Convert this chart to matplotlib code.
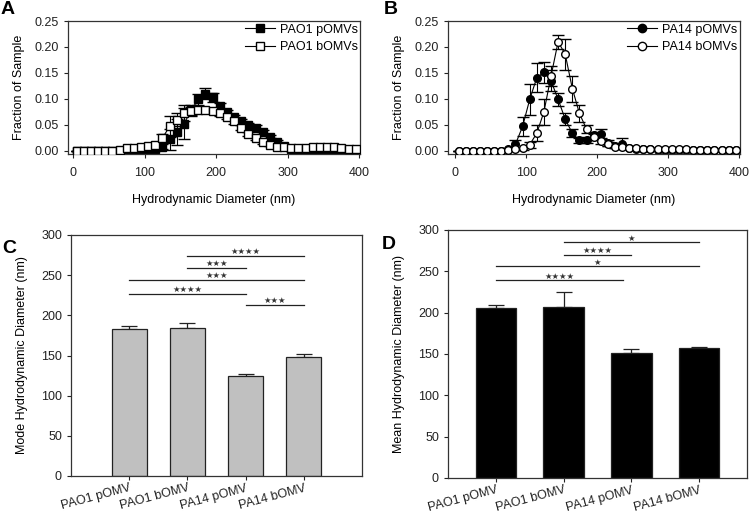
import numpy as np
import matplotlib
matplotlib.use("Agg")
import matplotlib.pyplot as plt
from matplotlib.lines import Line2D

plt.rcParams['font.family'] = ['Liberation Sans', 'DejaVu Sans']
plt.rcParams['font.size'] = 9

# --- datos paneles A y B (distribucion de tamaños) ---
diam = np.arange(5, 400, 10)

pao1_p = [0, 0, 0, 0, 0, 0, 0, 0, 0, 0,
          0.001, 0.003, 0.008, 0.022, 0.036, 0.052, 0.078, 0.099, 0.110, 0.103,
          0.087, 0.075, 0.065, 0.058, 0.050, 0.045, 0.037, 0.027, 0.018, 0.009,
          0.004, 0.002, 0.002, 0.002, 0.002, 0.002, 0.002, 0.002, 0.002, 0.002]
pao1_p_err = [0, 0, 0, 0, 0, 0, 0, 0, 0, 0,
              0.001, 0.002, 0.005, 0.02, 0.025, 0.03, 0.01, 0.01, 0.011, 0.009,
              0.006, 0.004, 0.004, 0.004, 0.004, 0.004, 0.004, 0.003, 0.003, 0.002,
              0.001, 0.001, 0.001, 0.001, 0.001, 0.001, 0.001, 0.001, 0.001, 0.001]
pao1_b = [0, 0, 0, 0, 0, 0, 0.002, 0.005, 0.006, 0.007,
          0.009, 0.012, 0.025, 0.047, 0.060, 0.073, 0.077, 0.078, 0.078, 0.077,
          0.073, 0.066, 0.057, 0.045, 0.033, 0.025, 0.017, 0.012, 0.008, 0.007,
          0.005, 0.006, 0.006, 0.007, 0.008, 0.008, 0.007, 0.006, 0.004, 0.003]
pao1_b_err = [0, 0, 0, 0, 0, 0, 0.001, 0.002, 0.002, 0.002,
              0.003, 0.004, 0.008, 0.02, 0.012, 0.015, 0.008, 0.006, 0.005, 0.005,
              0.005, 0.005, 0.005, 0.005, 0.004, 0.004, 0.003, 0.003, 0.002, 0.002,
              0.002, 0.002, 0.002, 0.002, 0.002, 0.002, 0.002, 0.002, 0.002, 0.001]

pa14_p = [0, 0, 0, 0, 0, 0, 0, 0.003, 0.013, 0.047,
          0.099, 0.141, 0.151, 0.135, 0.099, 0.061, 0.034, 0.020, 0.021, 0.030,
          0.033, 0.015, 0.010, 0.014, 0.005, 0.004, 0.003, 0.003, 0.002, 0.002,
          0.002, 0.002, 0.002, 0.001, 0.001, 0.001, 0.001, 0.001, 0.001, 0.001]
pa14_p_err = [0, 0, 0, 0, 0, 0, 0, 0.002, 0.008, 0.018,
              0.03, 0.028, 0.02, 0.02, 0.012, 0.012, 0.008, 0.005, 0.005, 0.006,
              0.01, 0.005, 0.004, 0.01, 0.002, 0.002, 0.001, 0.001, 0.001, 0.001,
              0.001, 0.001, 0.001, 0.001, 0.001, 0.001, 0.001, 0.001, 0.001, 0.001]
pa14_b = [0, 0, 0, 0, 0, 0, 0, 0.002, 0.003, 0.005,
          0.012, 0.034, 0.075, 0.144, 0.210, 0.186, 0.120, 0.072, 0.042, 0.027,
          0.019, 0.013, 0.008, 0.007, 0.005, 0.005, 0.004, 0.004, 0.004, 0.003,
          0.003, 0.003, 0.003, 0.002, 0.002, 0.002, 0.002, 0.001, 0.001, 0.001]
pa14_b_err = [0, 0, 0, 0, 0, 0, 0, 0.001, 0.002, 0.003,
              0.006, 0.015, 0.025, 0.02, 0.013, 0.03, 0.025, 0.017, 0.008, 0.006,
              0.005, 0.004, 0.003, 0.002, 0.002, 0.001, 0.001, 0.001, 0.001, 0.001,
              0.001, 0.001, 0.001, 0.001, 0.001, 0.001, 0.001, 0.001, 0.001, 0.001]

# --- datos paneles C y D (barras) ---
grupos = ["PAO1 pOMV", "PAO1 bOMV", "PA14 pOMV", "PA14 bOMV"]
moda = [183, 184, 124, 148]
moda_err = [4, 7, 3, 4]
media = [206, 207, 151, 157]
media_err = [3.5, 18, 5, 2]

# (inicio, fin, altura, texto)
sig_moda = [(1, 3, 274, "★★★★"), (1, 2, 259, "★★★"), (0, 3, 244, "★★★"),
            (0, 2, 227, "★★★★"), (2, 3, 213, "★★★")]
sig_media = [(1, 3, 285, "★"), (1, 2, 270, "★★★★"), (0, 3, 256, "★"),
             (0, 1.87, 239, "★★★★")]

W, H = 750, 513
fig = plt.figure(figsize=(W / 100, H / 100), dpi=100)


def ejes(l, r, t, b):
    return fig.add_axes([l / W, 1 - b / H, (r - l) / W, (b - t) / H])


def estilo(ax):
    for s in ax.spines.values():
        s.set_linewidth(0.9)
        s.set_color("#333333")
    ax.tick_params(direction="out", length=3, width=0.8, labelsize=9, colors="#222222")


def distribucion(ax, y1, e1, y2, e2, m, lab1, lab2, xmin):
    ax.errorbar(diam, y1, yerr=e1, color="black", lw=0.8, marker=m, ms=5.5,
                mfc="black", mec="black", capsize=4.5, elinewidth=0.8, zorder=2)
    ax.errorbar(diam, y2, yerr=e2, color="black", lw=0.8, marker=m, ms=5.5,
                mfc="white", mec="black", capsize=4.5, elinewidth=0.8, zorder=3)
    ax.set_xlim(xmin, 401)
    ax.set_ylim(-0.006, 0.25)
    ax.set_xticks([0, 100, 200, 300, 400])
    ax.set_yticks([0, 0.05, 0.10, 0.15, 0.20, 0.25])
    ax.set_yticklabels(["0.00", "0.05", "0.10", "0.15", "0.20", "0.25"])
    ax.set_xlabel("Hydrodynamic Diameter (nm)", fontsize=9, labelpad=11)
    ax.set_ylabel("Fraction of Sample", fontsize=9, labelpad=7)
    h1 = Line2D([], [], color="black", lw=0.8, marker=m, ms=6, mfc="black", mec="black")
    h2 = Line2D([], [], color="black", lw=0.8, marker=m, ms=6, mfc="white", mec="black")
    ax.legend([h1, h2], [lab1, lab2], loc="upper right", frameon=False, fontsize=9,
              handlelength=2.4, borderaxespad=0.1, borderpad=0.1, labelspacing=0.45,
              handletextpad=0.4)
    estilo(ax)
    ax.tick_params(axis="x", pad=6.5)


def barras(ax, vals, errs, color, sig, ylabel, xlim):
    x = np.arange(len(grupos))
    ax.bar(x, vals, width=0.6, color=color, edgecolor="#222222", linewidth=0.9, zorder=2)
    ax.errorbar(x, vals, yerr=[np.zeros(len(errs)), errs], fmt="none", ecolor="#222222",
                elinewidth=0.9, capsize=5.5, capthick=0.9, zorder=1)
    for a, b, h, txt in sig:
        ax.plot([a, b], [h, h], color="#222222", lw=0.9)
        ax.annotate(txt, xy=((a + b) / 2, h), xytext=(0, 1.2), textcoords="offset points",
                    ha="center", va="baseline", fontsize=6, color="#333333",
                    family="DejaVu Sans")
    ax.set_xlim(*xlim)
    ax.set_ylim(0, 300)
    ax.set_xticks(x)
    ax.set_xticklabels(grupos, rotation=15, ha="right", rotation_mode="anchor")
    ax.set_yticks(range(0, 301, 50))
    ax.set_ylabel(ylabel, fontsize=9, labelpad=9)
    estilo(ax)
    ax.tick_params(axis="x", pad=1.5)


axA = ejes(68, 360, 21, 154)
distribucion(axA, pao1_p, pao1_p_err, pao1_b, pao1_b_err, "s", "PAO1 pOMVs", "PAO1 bOMVs", -7)
axB = ejes(448, 740, 21, 154)
distribucion(axB, pa14_p, pa14_p_err, pa14_b, pa14_b_err, "o", "PA14 pOMVs", "PA14 bOMVs", -10)

axC = ejes(71, 362, 235, 476)
barras(axC, moda, moda_err, "#c0c0c0", sig_moda, "Mode Hydrodynamic Diameter (nm)", (-1, 4))
axD = ejes(448, 747, 230, 478)
barras(axD, media, media_err, "black", sig_media, "Mean Hydrodynamic Diameter (nm)", (-0.71, 3.71))

for txt, xp, yp in [("A", 1, 1), ("B", 384, 1), ("C", 2, 240), ("D", 382, 236)]:
    fig.text(xp / W, 1 - yp / H, txt, fontsize=14, fontweight="bold", va="top", ha="left")

fig.savefig("out.png", dpi=100)
